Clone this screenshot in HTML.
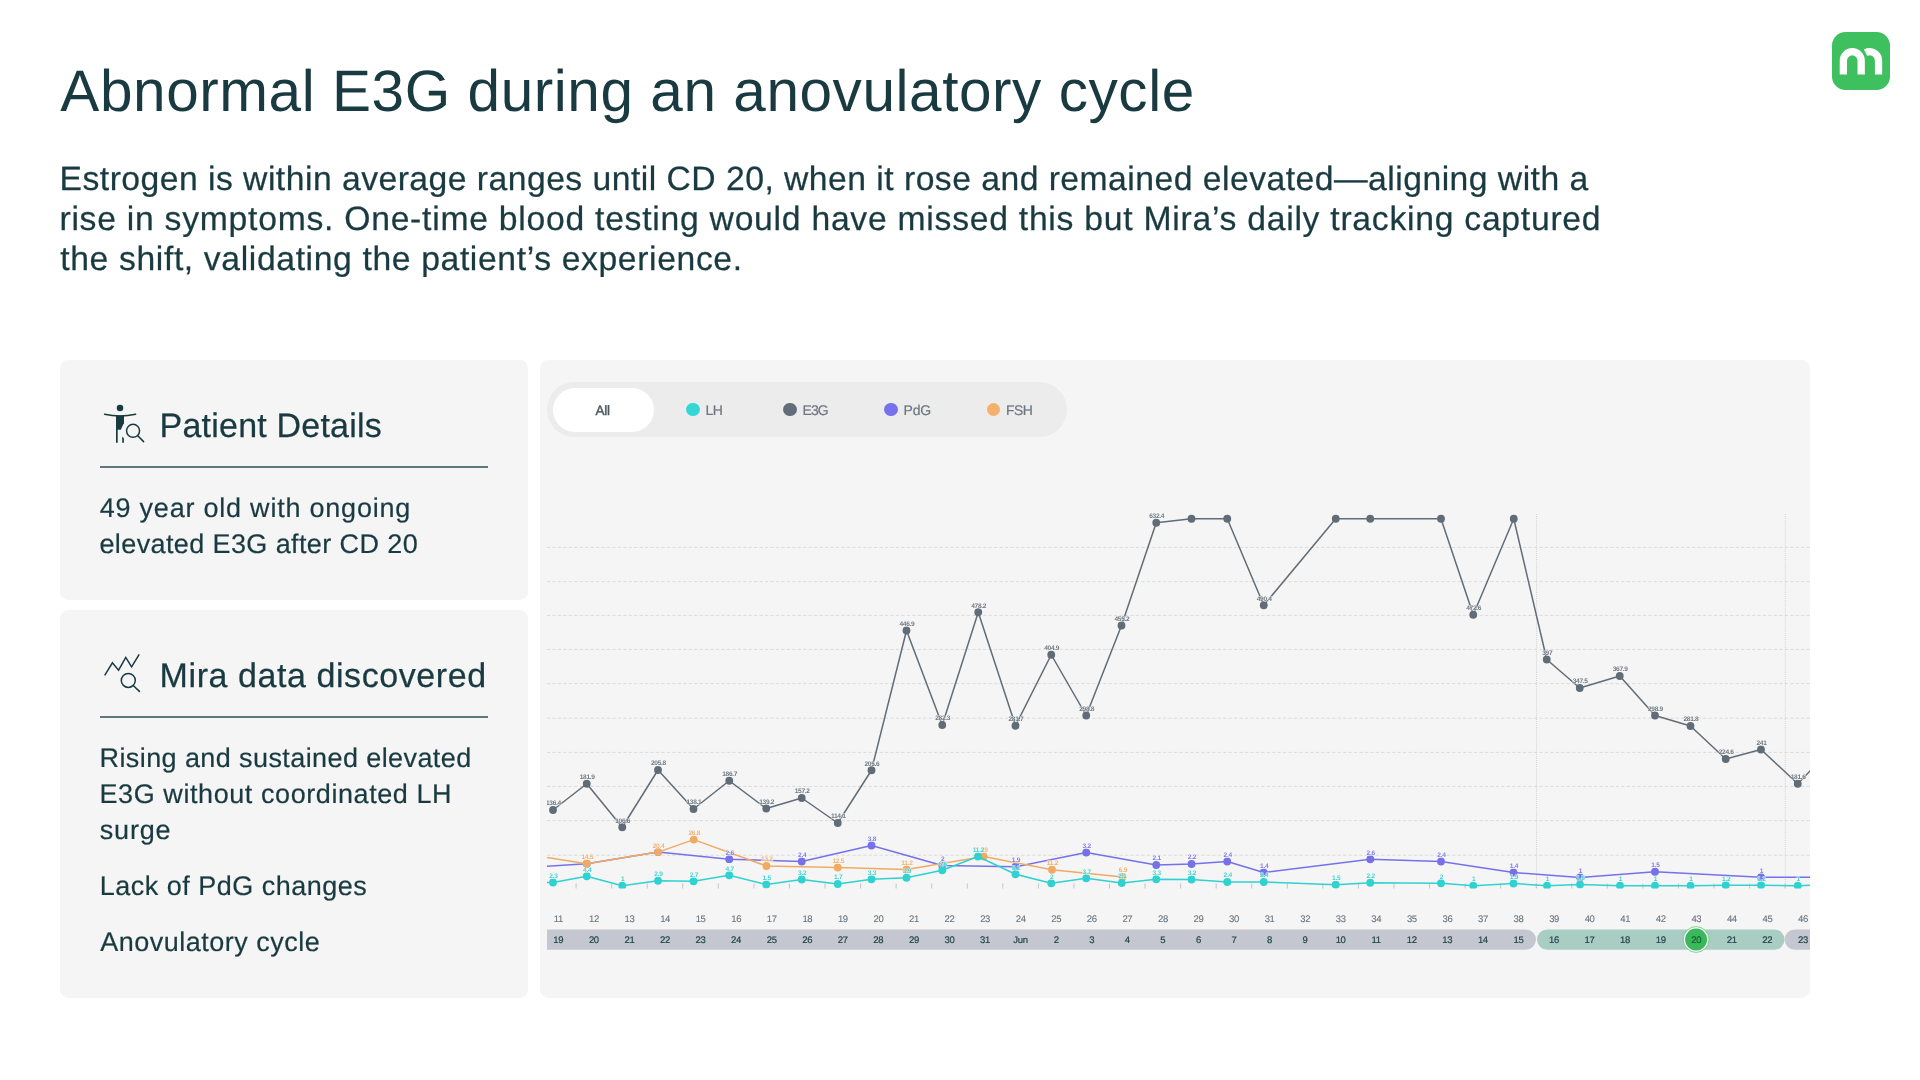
<!DOCTYPE html>
<html lang="en"><head><meta charset="utf-8"><title>Abnormal E3G during an anovulatory cycle</title>
<style>
html,body{margin:0;padding:0;}
body{text-rendering:geometricPrecision;width:1920px;height:1080px;background:#fff;position:relative;overflow:hidden;font-family:"Liberation Sans",sans-serif;color:#193a40;}
.wrap{position:absolute;left:0;top:0;width:1920px;height:1080px;overflow:hidden;will-change:transform;}
.abs{position:absolute;white-space:nowrap;}
.t{position:absolute;white-space:nowrap;margin:0;font-weight:400;}
h1{position:absolute;left:60.9px;top:55.6px;margin:0;font-weight:400;font-size:60px;line-height:70px;letter-spacing:-0.19px;white-space:nowrap;}
.sub{-webkit-text-stroke:0.3px #193a40;position:absolute;left:59.8px;top:158.35px;font-size:34.5px;line-height:40px;white-space:nowrap;}
.sub div{height:40px;}
.panel{position:absolute;background:#f5f5f5;border-radius:8.3px;}
.ph{-webkit-text-stroke:0.3px #193a40;position:absolute;left:101px;font-size:35px;line-height:40px;white-space:nowrap;}
.rule{position:absolute;left:40px;width:388px;height:2px;background:#5f787d;}
.bt{-webkit-text-stroke:0.3px #193a40;position:absolute;left:39px;font-size:26px;line-height:36px;letter-spacing:0.9px;white-space:nowrap;}
.logo{position:absolute;left:1832px;top:32px;width:58px;height:58px;}
.chart{position:absolute;left:0;top:0;}
.chart text{font-family:"Liberation Sans",sans-serif;}
.vl text{font-size:6.6px;font-weight:700;text-anchor:middle;letter-spacing:-0.3px;paint-order:stroke;stroke:#f7f7f7;stroke-width:0.9px;stroke-opacity:.8;fill-opacity:.9;}
.cd text{font-size:9.5px;text-anchor:middle;fill:#6a757f;letter-spacing:-0.35px;stroke:#6a757f;stroke-width:0.1px;}
.dt text{font-size:9.5px;text-anchor:middle;fill:#1d3f45;letter-spacing:-0.3px;stroke:#1d3f45;stroke-width:0.18px;}
.tog{position:absolute;left:547px;top:382px;width:520px;height:55px;border-radius:28px;background:#ececec;}
.tog .all{position:absolute;left:6px;top:6px;width:101px;height:44px;border-radius:22px;background:#fff;}
.tog span{position:absolute;top:18.6px;font-size:14px;line-height:18px;color:#6c7681;white-space:nowrap;letter-spacing:-0.5px;-webkit-text-stroke:0.2px #6c7681;}
.tog i{position:absolute;top:21px;width:13.4px;height:13.4px;border-radius:50%;}
</style></head>
<body><div class="wrap">
<div class="t" style="left:60.37px;top:56.50px;font-size:58.5px;line-height:70px;letter-spacing:0.559px;">Abnormal E3G during an anovulatory cycle</div>
<div class="t" style="left:59.54px;top:158.50px;font-size:33.7px;line-height:40px;letter-spacing:0.475px;-webkit-text-stroke:0.25px #193a40;">Estrogen is within average ranges until CD 20, when it rose and remained elevated—aligning with a</div><div class="t" style="left:59.44px;top:198.50px;font-size:33.7px;line-height:40px;letter-spacing:0.742px;-webkit-text-stroke:0.25px #193a40;">rise in symptoms. One-time blood testing would have missed this but Mira’s daily tracking captured</div><div class="t" style="left:60.25px;top:238.50px;font-size:33.7px;line-height:40px;letter-spacing:0.628px;-webkit-text-stroke:0.25px #193a40;">the shift, validating the patient’s experience.</div>

<svg class="logo" viewBox="1832 32 58 58"><rect x="1832" y="32" width="58" height="58" rx="13.5" fill="#3fc05e"/>
<g fill="none" stroke="#fff" stroke-width="7.3"><path d="M1843.38,74.5V60.6a8.9,8.9 0 0 1 17.8,0V74.5"/><path d="M1865.58,52.66A8.9,8.9 0 0 1 1878.53,60.6V74.5"/></g></svg>

<div class="panel" style="left:60px;top:360px;width:468px;height:240px;">
 <svg class="abs" style="left:40px;top:40px" width="48" height="48" viewBox="100 400 48 48">
  <circle cx="120" cy="408.1" r="3.25" fill="#193a40"/>
  <path d="M104.6,414.3Q120,417.9 135.6,414.3" fill="none" stroke="#193a40" stroke-width="1.5" stroke-linecap="round"/>
  <path d="M116,415.6H124V423.5L123.2,424.6L120.8,429.8H117.7V442.8H116z" fill="#193a40"/>
  <path d="M122.2,436.6L123.9,438.2V442.8H122.2z" fill="#193a40"/>
  <circle cx="133.05" cy="430.85" r="6.5" fill="none" stroke="#193a40" stroke-width="1.5"/>
  <path d="M137.8,435.8L143.6,441.6" stroke="#193a40" stroke-width="1.5" stroke-linecap="round"/>
 </svg>
 <div class="t" style="left:99.62px;top:45.50px;font-size:34px;line-height:40px;letter-spacing:0.208px;-webkit-text-stroke:0.25px #193a40;">Patient Details</div>
 <div class="rule" style="top:106px"></div>
 <div class="t" style="left:39.73px;top:129.90px;font-size:27px;line-height:36px;letter-spacing:0.776px;-webkit-text-stroke:0.2px #193a40;">49 year old with ongoing</div>
 <div class="t" style="left:39.44px;top:165.90px;font-size:27px;line-height:36px;letter-spacing:0.393px;-webkit-text-stroke:0.2px #193a40;">elevated E3G after CD 20</div>
</div>

<div class="panel" style="left:60px;top:610px;width:468px;height:387.5px;">
 <svg class="abs" style="left:40px;top:40px" width="48" height="48" viewBox="100 650 48 48">
  <polyline points="104.7,675.4 112.4,662.8 118.6,670.2 125.75,657.4 131.6,666.8 139.2,654.4" fill="none" stroke="#193a40" stroke-width="1.5"/>
  <circle cx="128.3" cy="680.4" r="7" fill="none" stroke="#193a40" stroke-width="1.5"/>
  <path d="M133.5,685.7L139.4,691.4" stroke="#193a40" stroke-width="1.5" stroke-linecap="round"/>
 </svg>
 <div class="t" style="left:99.62px;top:45.50px;font-size:34px;line-height:40px;letter-spacing:0.573px;-webkit-text-stroke:0.25px #193a40;">Mira data discovered</div>
 <div class="rule" style="top:106px"></div>
 <div class="t" style="left:39.51px;top:129.90px;font-size:27px;line-height:36px;letter-spacing:0.408px;-webkit-text-stroke:0.2px #193a40;">Rising and sustained elevated</div>
 <div class="t" style="left:39.51px;top:165.90px;font-size:27px;line-height:36px;letter-spacing:0.575px;-webkit-text-stroke:0.2px #193a40;">E3G without coordinated LH</div>
 <div class="t" style="left:39.82px;top:201.90px;font-size:27px;line-height:36px;letter-spacing:0.809px;-webkit-text-stroke:0.2px #193a40;">surge</div>
 <div class="t" style="left:39.71px;top:257.90px;font-size:27px;line-height:36px;letter-spacing:0.49px;-webkit-text-stroke:0.2px #193a40;">Lack of PdG changes</div>
 <div class="t" style="left:40.15px;top:313.90px;font-size:27px;line-height:36px;letter-spacing:0.498px;-webkit-text-stroke:0.2px #193a40;">Anovulatory cycle</div>
</div>

<div class="panel" style="left:540px;top:360px;width:1269.7px;height:637.5px;"></div>
<div class="tog"><div class="all"></div>
 <span style="left:48.6px;top:19.6px;color:#4d5863;font-size:13.5px;letter-spacing:-0.3px;-webkit-text-stroke:0.45px #4d5863">All</span>
 <i style="left:139.3px;background:#33d8d6"></i><span style="left:158.5px">LH</span>
 <i style="left:236.3px;background:#626d79"></i><span style="left:255.5px;letter-spacing:-0.9px">E3G</span>
 <i style="left:337.3px;background:#7771ee"></i><span style="left:356.5px;letter-spacing:-0.2px">PdG</span>
 <i style="left:439.6px;background:#f5b06b"></i><span style="left:459px;letter-spacing:-0.6px">FSH</span>
</div>
<svg class="chart" width="1920" height="1080" viewBox="0 0 1920 1080">
<defs><clipPath id="cp"><rect x="547" y="500" width="1263" height="388.6"/></clipPath>
<clipPath id="cb"><rect x="547" y="900" width="1263" height="70"/></clipPath></defs>
<g stroke="#dbdbdb" stroke-width="1" stroke-dasharray="3.25 2.203" stroke-dashoffset="0.1"><line x1="547" x2="1810" y1="547.45" y2="547.45"/><line x1="547" x2="1810" y1="581.65" y2="581.65"/><line x1="547" x2="1810" y1="615.45" y2="615.45"/><line x1="547" x2="1810" y1="649.45" y2="649.45"/><line x1="547" x2="1810" y1="683.65" y2="683.65"/><line x1="547" x2="1810" y1="718.20" y2="718.20"/><line x1="547" x2="1810" y1="752.40" y2="752.40"/><line x1="547" x2="1810" y1="786.40" y2="786.40"/><line x1="547" x2="1810" y1="820.60" y2="820.60"/><line x1="547" x2="1810" y1="855.25" y2="855.25"/></g>
<g stroke="#d2d2d2" stroke-width="1" stroke-dasharray="1 1.05"><line x1="1536.6" x2="1536.6" y1="514" y2="889"/><line x1="1785.3" x2="1785.3" y1="514" y2="889"/></g>
<g clip-path="url(#cp)">
<g stroke="#c4c4c4" stroke-width="1"><line x1="576.10" x2="576.10" y1="883.5" y2="889"/><line x1="611.66" x2="611.66" y1="883.5" y2="889"/><line x1="647.22" x2="647.22" y1="883.5" y2="889"/><line x1="682.78" x2="682.78" y1="883.5" y2="889"/><line x1="718.34" x2="718.34" y1="883.5" y2="889"/><line x1="753.90" x2="753.90" y1="883.5" y2="889"/><line x1="789.46" x2="789.46" y1="883.5" y2="889"/><line x1="825.02" x2="825.02" y1="883.5" y2="889"/><line x1="860.58" x2="860.58" y1="883.5" y2="889"/><line x1="896.14" x2="896.14" y1="883.5" y2="889"/><line x1="931.70" x2="931.70" y1="883.5" y2="889"/><line x1="967.26" x2="967.26" y1="883.5" y2="889"/><line x1="1002.82" x2="1002.82" y1="883.5" y2="889"/><line x1="1038.38" x2="1038.38" y1="883.5" y2="889"/><line x1="1073.94" x2="1073.94" y1="883.5" y2="889"/><line x1="1109.50" x2="1109.50" y1="883.5" y2="889"/><line x1="1145.06" x2="1145.06" y1="883.5" y2="889"/><line x1="1180.62" x2="1180.62" y1="883.5" y2="889"/><line x1="1216.18" x2="1216.18" y1="883.5" y2="889"/><line x1="1251.74" x2="1251.74" y1="883.5" y2="889"/><line x1="1287.30" x2="1287.30" y1="883.5" y2="889"/><line x1="1322.86" x2="1322.86" y1="883.5" y2="889"/><line x1="1358.42" x2="1358.42" y1="883.5" y2="889"/><line x1="1393.98" x2="1393.98" y1="883.5" y2="889"/><line x1="1429.54" x2="1429.54" y1="883.5" y2="889"/><line x1="1465.10" x2="1465.10" y1="883.5" y2="889"/><line x1="1500.66" x2="1500.66" y1="883.5" y2="889"/><line x1="1536.22" x2="1536.22" y1="883.5" y2="889"/><line x1="1571.78" x2="1571.78" y1="883.5" y2="889"/><line x1="1607.34" x2="1607.34" y1="883.5" y2="889"/><line x1="1642.90" x2="1642.90" y1="883.5" y2="889"/><line x1="1678.46" x2="1678.46" y1="883.5" y2="889"/><line x1="1714.02" x2="1714.02" y1="883.5" y2="889"/><line x1="1749.58" x2="1749.58" y1="883.5" y2="889"/><line x1="1785.14" x2="1785.14" y1="883.5" y2="889"/></g>
<polyline points="553,810 586.75,783.75 622.25,827.25 658,770 693.5,809 729.25,780.75 766.25,808.5 801.75,798 837.75,823 871.5,770.25 906.5,630.5 942.25,725 978.25,612.25 1015.5,725.75 1051.25,654.75 1086.25,715.5 1121.5,625.5 1156.25,522.75 1191.5,518.75 1227.25,518.75 1263.75,605.25 1335.75,518.75 1370.25,518.75 1441,518.75 1473.25,614.75 1513.75,518.75 1546.75,659.5 1579.75,688 1619.75,676 1655,715.5 1690.5,726 1725.75,759 1761,749.5 1797.75,783.75 1833,747" fill="none" stroke="#606c77" stroke-width="1.5" stroke-linejoin="round"/><circle cx="553" cy="810" r="3.9" fill="#606c77"/><circle cx="586.75" cy="783.75" r="3.9" fill="#606c77"/><circle cx="622.25" cy="827.25" r="3.9" fill="#606c77"/><circle cx="658" cy="770" r="3.9" fill="#606c77"/><circle cx="693.5" cy="809" r="3.9" fill="#606c77"/><circle cx="729.25" cy="780.75" r="3.9" fill="#606c77"/><circle cx="766.25" cy="808.5" r="3.9" fill="#606c77"/><circle cx="801.75" cy="798" r="3.9" fill="#606c77"/><circle cx="837.75" cy="823" r="3.9" fill="#606c77"/><circle cx="871.5" cy="770.25" r="3.9" fill="#606c77"/><circle cx="906.5" cy="630.5" r="3.9" fill="#606c77"/><circle cx="942.25" cy="725" r="3.9" fill="#606c77"/><circle cx="978.25" cy="612.25" r="3.9" fill="#606c77"/><circle cx="1015.5" cy="725.75" r="3.9" fill="#606c77"/><circle cx="1051.25" cy="654.75" r="3.9" fill="#606c77"/><circle cx="1086.25" cy="715.5" r="3.9" fill="#606c77"/><circle cx="1121.5" cy="625.5" r="3.9" fill="#606c77"/><circle cx="1156.25" cy="522.75" r="3.9" fill="#606c77"/><circle cx="1191.5" cy="518.75" r="3.9" fill="#606c77"/><circle cx="1227.25" cy="518.75" r="3.9" fill="#606c77"/><circle cx="1263.75" cy="605.25" r="3.9" fill="#606c77"/><circle cx="1335.75" cy="518.75" r="3.9" fill="#606c77"/><circle cx="1370.25" cy="518.75" r="3.9" fill="#606c77"/><circle cx="1441" cy="518.75" r="3.9" fill="#606c77"/><circle cx="1473.25" cy="614.75" r="3.9" fill="#606c77"/><circle cx="1513.75" cy="518.75" r="3.9" fill="#606c77"/><circle cx="1546.75" cy="659.5" r="3.9" fill="#606c77"/><circle cx="1579.75" cy="688" r="3.9" fill="#606c77"/><circle cx="1619.75" cy="676" r="3.9" fill="#606c77"/><circle cx="1655" cy="715.5" r="3.9" fill="#606c77"/><circle cx="1690.5" cy="726" r="3.9" fill="#606c77"/><circle cx="1725.75" cy="759" r="3.9" fill="#606c77"/><circle cx="1761" cy="749.5" r="3.9" fill="#606c77"/><circle cx="1797.75" cy="783.75" r="3.9" fill="#606c77"/>
<polyline points="520,868 586.75,863.75 658,852.1 729.25,859.2 801.75,861.5 871.5,845.5 942.25,865.5 1015.5,866.75 1086.25,852.5 1156.25,865 1191.5,864 1227.25,861.5 1263.75,872.5 1370.25,859.25 1441,861.5 1513.5,872.5 1580,877.5 1655,871.75 1761,877.25 1833,877.25" fill="none" stroke="#7671e9" stroke-width="1.5" stroke-linejoin="round"/><circle cx="586.75" cy="863.75" r="3.9" fill="#7671e9"/><circle cx="658" cy="852.1" r="3.9" fill="#7671e9"/><circle cx="729.25" cy="859.2" r="3.9" fill="#7671e9"/><circle cx="801.75" cy="861.5" r="3.9" fill="#7671e9"/><circle cx="871.5" cy="845.5" r="3.9" fill="#7671e9"/><circle cx="942.25" cy="865.5" r="3.9" fill="#7671e9"/><circle cx="1015.5" cy="866.75" r="3.9" fill="#7671e9"/><circle cx="1086.25" cy="852.5" r="3.9" fill="#7671e9"/><circle cx="1156.25" cy="865" r="3.9" fill="#7671e9"/><circle cx="1191.5" cy="864" r="3.9" fill="#7671e9"/><circle cx="1227.25" cy="861.5" r="3.9" fill="#7671e9"/><circle cx="1263.75" cy="872.5" r="3.9" fill="#7671e9"/><circle cx="1370.25" cy="859.25" r="3.9" fill="#7671e9"/><circle cx="1441" cy="861.5" r="3.9" fill="#7671e9"/><circle cx="1513.5" cy="872.5" r="3.9" fill="#7671e9"/><circle cx="1580" cy="877.5" r="3.9" fill="#7671e9"/><circle cx="1655" cy="871.75" r="3.9" fill="#7671e9"/><circle cx="1761" cy="877.25" r="3.9" fill="#7671e9"/>
<polyline points="520,853.2 586.75,863.75 658,852.1 693.75,839.6 766.4,866 837.75,867.5 906.5,869.5 983.75,856.5 1052,869.75 1122.5,877" fill="none" stroke="#f0ab63" stroke-width="1.5" stroke-linejoin="round"/><circle cx="586.75" cy="863.75" r="3.9" fill="#f0ab63"/><circle cx="658" cy="852.1" r="3.9" fill="#f0ab63"/><circle cx="693.75" cy="839.6" r="3.9" fill="#f0ab63"/><circle cx="766.4" cy="866" r="3.9" fill="#f0ab63"/><circle cx="837.75" cy="867.5" r="3.9" fill="#f0ab63"/><circle cx="906.5" cy="869.5" r="3.9" fill="#f0ab63"/><circle cx="983.75" cy="856.5" r="3.9" fill="#f0ab63"/><circle cx="1052" cy="869.75" r="3.9" fill="#f0ab63"/><circle cx="1122.5" cy="877" r="3.9" fill="#f0ab63"/>
<polyline points="520,882.5 553,882.5 586.75,876.25 622.25,885.75 658,880.75 693.5,881.25 729.25,875.25 766.25,884.5 801.75,879.5 837.75,884 871.5,879.25 906.5,877.75 942.25,870.25 978,856.5 1015.5,874.25 1051.25,883.25 1086.25,878.25 1121.75,883 1156.25,879.25 1191.5,879.5 1227.25,882 1263.75,882 1335.75,884.75 1370.25,882.75 1441,883.25 1473.25,885.75 1513.5,883.5 1547,885.75 1580,884.5 1620,885.75 1655,885.75 1690.5,885.75 1725.75,885.25 1761,885.25 1797.75,885.75 1833,884" fill="none" stroke="#2fd2d0" stroke-width="1.5" stroke-linejoin="round"/><circle cx="553" cy="882.5" r="3.9" fill="#2fd2d0"/><circle cx="586.75" cy="876.25" r="3.9" fill="#2fd2d0"/><circle cx="622.25" cy="885.75" r="3.9" fill="#2fd2d0"/><circle cx="658" cy="880.75" r="3.9" fill="#2fd2d0"/><circle cx="693.5" cy="881.25" r="3.9" fill="#2fd2d0"/><circle cx="729.25" cy="875.25" r="3.9" fill="#2fd2d0"/><circle cx="766.25" cy="884.5" r="3.9" fill="#2fd2d0"/><circle cx="801.75" cy="879.5" r="3.9" fill="#2fd2d0"/><circle cx="837.75" cy="884" r="3.9" fill="#2fd2d0"/><circle cx="871.5" cy="879.25" r="3.9" fill="#2fd2d0"/><circle cx="906.5" cy="877.75" r="3.9" fill="#2fd2d0"/><circle cx="942.25" cy="870.25" r="3.9" fill="#2fd2d0"/><circle cx="978" cy="856.5" r="3.9" fill="#2fd2d0"/><circle cx="1015.5" cy="874.25" r="3.9" fill="#2fd2d0"/><circle cx="1051.25" cy="883.25" r="3.9" fill="#2fd2d0"/><circle cx="1086.25" cy="878.25" r="3.9" fill="#2fd2d0"/><circle cx="1121.75" cy="883" r="3.9" fill="#2fd2d0"/><circle cx="1156.25" cy="879.25" r="3.9" fill="#2fd2d0"/><circle cx="1191.5" cy="879.5" r="3.9" fill="#2fd2d0"/><circle cx="1227.25" cy="882" r="3.9" fill="#2fd2d0"/><circle cx="1263.75" cy="882" r="3.9" fill="#2fd2d0"/><circle cx="1335.75" cy="884.75" r="3.9" fill="#2fd2d0"/><circle cx="1370.25" cy="882.75" r="3.9" fill="#2fd2d0"/><circle cx="1441" cy="883.25" r="3.9" fill="#2fd2d0"/><circle cx="1473.25" cy="885.75" r="3.9" fill="#2fd2d0"/><circle cx="1513.5" cy="883.5" r="3.9" fill="#2fd2d0"/><circle cx="1547" cy="885.75" r="3.9" fill="#2fd2d0"/><circle cx="1580" cy="884.5" r="3.9" fill="#2fd2d0"/><circle cx="1620" cy="885.75" r="3.9" fill="#2fd2d0"/><circle cx="1655" cy="885.75" r="3.9" fill="#2fd2d0"/><circle cx="1690.5" cy="885.75" r="3.9" fill="#2fd2d0"/><circle cx="1725.75" cy="885.25" r="3.9" fill="#2fd2d0"/><circle cx="1761" cy="885.25" r="3.9" fill="#2fd2d0"/><circle cx="1797.75" cy="885.75" r="3.9" fill="#2fd2d0"/>
<g class="vl"><text x="553.5" y="805.4" fill="#606c77">136.4</text><text x="587.25" y="779.15" fill="#606c77">181.9</text><text x="622.75" y="822.65" fill="#606c77">106.6</text><text x="658.5" y="765.4" fill="#606c77">205.8</text><text x="694" y="804.4" fill="#606c77">138.1</text><text x="729.75" y="776.15" fill="#606c77">186.7</text><text x="766.75" y="803.9" fill="#606c77">139.2</text><text x="802.25" y="793.4" fill="#606c77">157.2</text><text x="838.25" y="818.4" fill="#606c77">114.1</text><text x="872" y="765.65" fill="#606c77">205.6</text><text x="907" y="625.9" fill="#606c77">446.9</text><text x="942.75" y="720.4" fill="#606c77">282.3</text><text x="978.75" y="607.65" fill="#606c77">478.2</text><text x="1016" y="721.15" fill="#606c77">281.7</text><text x="1051.75" y="650.15" fill="#606c77">404.9</text><text x="1086.75" y="710.9" fill="#606c77">298.8</text><text x="1122" y="620.9" fill="#606c77">455.2</text><text x="1156.75" y="518.15" fill="#606c77">632.4</text><text x="1264.25" y="600.65" fill="#606c77">490.4</text><text x="1473.75" y="610.15" fill="#606c77">472.6</text><text x="1547.25" y="654.9" fill="#606c77">397</text><text x="1580.25" y="683.4" fill="#606c77">347.5</text><text x="1620.25" y="671.4" fill="#606c77">367.9</text><text x="1655.5" y="710.9" fill="#606c77">298.9</text><text x="1691" y="721.4" fill="#606c77">281.8</text><text x="1726.25" y="754.4" fill="#606c77">224.6</text><text x="1761.5" y="744.9" fill="#606c77">241</text><text x="1798.25" y="779.15" fill="#606c77">181.6</text><text x="729.75" y="854.6" fill="#7671e9">2.6</text><text x="802.25" y="856.9" fill="#7671e9">2.4</text><text x="872" y="840.9" fill="#7671e9">3.8</text><text x="942.75" y="860.9" fill="#7671e9">2</text><text x="1016" y="862.15" fill="#7671e9">1.9</text><text x="1086.75" y="847.9" fill="#7671e9">3.2</text><text x="1156.75" y="860.4" fill="#7671e9">2.1</text><text x="1192" y="859.4" fill="#7671e9">2.2</text><text x="1227.75" y="856.9" fill="#7671e9">2.4</text><text x="1264.25" y="867.9" fill="#7671e9">1.4</text><text x="1370.75" y="854.65" fill="#7671e9">2.6</text><text x="1441.5" y="856.9" fill="#7671e9">2.4</text><text x="1514" y="867.9" fill="#7671e9">1.4</text><text x="1580.5" y="872.9" fill="#7671e9">1</text><text x="1655.5" y="867.15" fill="#7671e9">1.5</text><text x="1761.5" y="872.65" fill="#7671e9">1</text><text x="587.25" y="859.15" fill="#f0ab63">14.5</text><text x="658.5" y="847.5" fill="#f0ab63">20.4</text><text x="694.25" y="835" fill="#f0ab63">26.8</text><text x="766.9" y="861.4" fill="#f0ab63">13.2</text><text x="838.25" y="862.9" fill="#f0ab63">12.5</text><text x="907" y="864.9" fill="#f0ab63">11.2</text><text x="984.25" y="851.9" fill="#f0ab63">19</text><text x="1052.5" y="865.15" fill="#f0ab63">11.2</text><text x="1123" y="872.4" fill="#f0ab63">6.9</text><text x="553.5" y="877.9" fill="#2fd2d0">2.3</text><text x="587.25" y="871.65" fill="#2fd2d0">4.4</text><text x="622.75" y="881.15" fill="#2fd2d0">1</text><text x="658.5" y="876.15" fill="#2fd2d0">2.9</text><text x="694" y="876.65" fill="#2fd2d0">2.7</text><text x="729.75" y="870.65" fill="#2fd2d0">4.7</text><text x="766.75" y="879.9" fill="#2fd2d0">1.5</text><text x="802.25" y="874.9" fill="#2fd2d0">3.2</text><text x="838.25" y="879.4" fill="#2fd2d0">1.7</text><text x="872" y="874.65" fill="#2fd2d0">3.3</text><text x="907" y="873.15" fill="#2fd2d0">3.9</text><text x="942.75" y="865.65" fill="#2fd2d0">6.6</text><text x="978.5" y="851.9" fill="#2fd2d0">11.2</text><text x="1016" y="869.65" fill="#2fd2d0">5.1</text><text x="1051.75" y="878.65" fill="#2fd2d0">2</text><text x="1086.75" y="873.65" fill="#2fd2d0">3.7</text><text x="1122.25" y="878.4" fill="#2fd2d0">2.1</text><text x="1156.75" y="874.65" fill="#2fd2d0">3.3</text><text x="1192" y="874.9" fill="#2fd2d0">3.2</text><text x="1227.75" y="877.4" fill="#2fd2d0">2.4</text><text x="1264.25" y="877.4" fill="#2fd2d0">2.4</text><text x="1336.25" y="880.15" fill="#2fd2d0">1.5</text><text x="1370.75" y="878.15" fill="#2fd2d0">2.2</text><text x="1441.5" y="878.65" fill="#2fd2d0">2</text><text x="1473.75" y="881.15" fill="#2fd2d0">1</text><text x="1514" y="878.9" fill="#2fd2d0">1.9</text><text x="1547.5" y="881.15" fill="#2fd2d0">1</text><text x="1580.5" y="879.9" fill="#2fd2d0">1.5</text><text x="1620.5" y="881.15" fill="#2fd2d0">1</text><text x="1655.5" y="881.15" fill="#2fd2d0">1</text><text x="1691" y="881.15" fill="#2fd2d0">1</text><text x="1726.25" y="880.65" fill="#2fd2d0">1.2</text><text x="1761.5" y="880.65" fill="#2fd2d0">1.2</text><text x="1798.25" y="881.15" fill="#2fd2d0">1</text></g>
</g>
<g clip-path="url(#cb)">
<path d="M547,929.5H1525.9a10.1,10.1 0 0 1 0,20.2H547z" fill="#c4c7cf"/>
<rect x="1537" y="929.5" width="247.6" height="20.2" rx="10.1" fill="#a9cdc3"/>
<path d="M1830,929.5H1794.7a10.1,10.1 0 0 0 0,20.2H1830z" fill="#c4c7cf"/>
<circle cx="1696.1" cy="939.5" r="12.9" fill="#f7f7f7" stroke="#55c071" stroke-width="0.7"/>
<circle cx="1696.1" cy="939.5" r="10.95" fill="#3cb85c"/>
<g class="cd"><text x="558.40" y="922">11</text><text x="593.96" y="922">12</text><text x="629.52" y="922">13</text><text x="665.08" y="922">14</text><text x="700.64" y="922">15</text><text x="736.20" y="922">16</text><text x="771.76" y="922">17</text><text x="807.32" y="922">18</text><text x="842.88" y="922">19</text><text x="878.44" y="922">20</text><text x="914.00" y="922">21</text><text x="949.56" y="922">22</text><text x="985.12" y="922">23</text><text x="1020.68" y="922">24</text><text x="1056.24" y="922">25</text><text x="1091.80" y="922">26</text><text x="1127.36" y="922">27</text><text x="1162.92" y="922">28</text><text x="1198.48" y="922">29</text><text x="1234.04" y="922">30</text><text x="1269.60" y="922">31</text><text x="1305.16" y="922">32</text><text x="1340.72" y="922">33</text><text x="1376.28" y="922">34</text><text x="1411.84" y="922">35</text><text x="1447.40" y="922">36</text><text x="1482.96" y="922">37</text><text x="1518.52" y="922">38</text><text x="1554.08" y="922">39</text><text x="1589.64" y="922">40</text><text x="1625.20" y="922">41</text><text x="1660.76" y="922">42</text><text x="1696.32" y="922">43</text><text x="1731.88" y="922">44</text><text x="1767.44" y="922">45</text><text x="1803.00" y="922">46</text></g>
<g class="dt"><text x="558.30" y="943">19</text><text x="593.86" y="943">20</text><text x="629.42" y="943">21</text><text x="664.98" y="943">22</text><text x="700.54" y="943">23</text><text x="736.10" y="943">24</text><text x="771.66" y="943">25</text><text x="807.22" y="943">26</text><text x="842.78" y="943">27</text><text x="878.34" y="943">28</text><text x="913.90" y="943">29</text><text x="949.46" y="943">30</text><text x="985.02" y="943">31</text><text x="1020.58" y="943">Jun</text><text x="1056.14" y="943">2</text><text x="1091.70" y="943">3</text><text x="1127.26" y="943">4</text><text x="1162.82" y="943">5</text><text x="1198.38" y="943">6</text><text x="1233.94" y="943">7</text><text x="1269.50" y="943">8</text><text x="1305.06" y="943">9</text><text x="1340.62" y="943">10</text><text x="1376.18" y="943">11</text><text x="1411.74" y="943">12</text><text x="1447.30" y="943">13</text><text x="1482.86" y="943">14</text><text x="1518.42" y="943">15</text><text x="1553.98" y="943">16</text><text x="1589.54" y="943">17</text><text x="1625.10" y="943">18</text><text x="1660.66" y="943">19</text><text x="1696.22" y="943" style="fill:#14603a;stroke:#14603a">20</text><text x="1731.78" y="943">21</text><text x="1767.34" y="943">22</text><text x="1802.90" y="943">23</text></g>
</g>
</svg>
</div></body></html>
